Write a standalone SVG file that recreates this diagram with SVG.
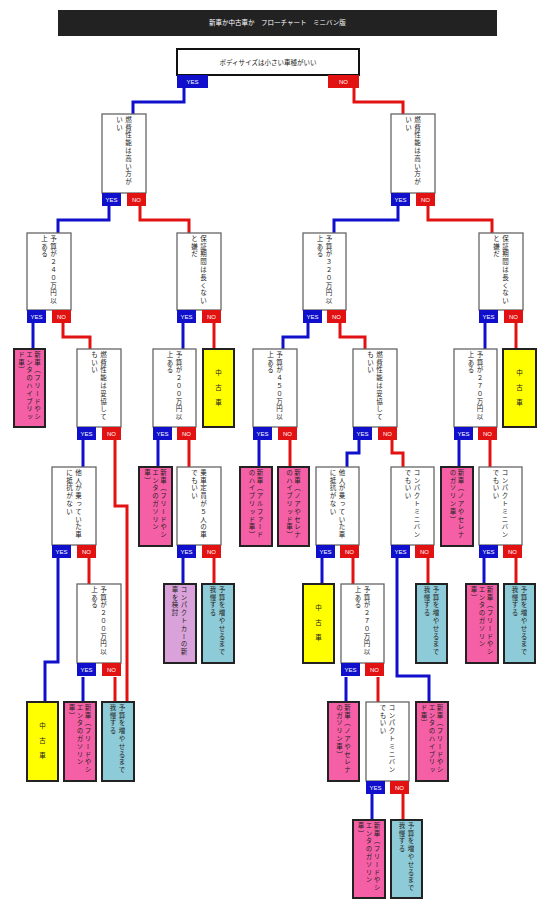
<svg xmlns="http://www.w3.org/2000/svg" width="550" height="917" viewBox="0 0 550 917">
<style>
.bg{fill:#fff}
.title{fill:#222}
.tt{font-family:'Noto Sans CJK JP',sans-serif;font-size:6.5px;fill:#fff;text-anchor:middle}
.root{fill:#fff;stroke:#111;stroke-width:2}
.dec{fill:#fff;stroke:#666;stroke-width:1.3}
.pk{fill:#f55fa6;stroke:#222;stroke-width:2}
.yl{fill:#ffff00;stroke:#222;stroke-width:2}
.bl{fill:#8ecbd8;stroke:#222;stroke-width:2}
.pu{fill:#daa2da;stroke:#222;stroke-width:2}
.ht{font-family:'Noto Sans CJK JP',sans-serif;font-size:6.5px;fill:#222;text-anchor:middle}
.vt{font-family:'Noto Sans CJK JP',sans-serif;font-size:6.5px;fill:#222;writing-mode:vertical-rl;letter-spacing:1.3px}
.vy{font-family:'Noto Sans CJK JP',sans-serif;font-size:6.5px;fill:#222;writing-mode:vertical-rl;letter-spacing:8.5px}
.ys{fill:#1010cc}
.no{fill:#e31212}
.lb{font-family:'Liberation Sans',Arial,sans-serif;font-size:6px;fill:#fff;text-anchor:middle}
.cb{fill:none;stroke:#1010cc;stroke-width:3}
.cr{fill:none;stroke:#e31212;stroke-width:3}
</style>
<rect class="bg" x="0" y="0" width="550" height="917"/>
<g id="title">
<rect class="title" x="58" y="10" width="439" height="26"/>
<text class="tt" x="277.5" y="25.3">新車か中古車か　フローチャート　ミニバン版</text>
</g>
<g id="connectors">
<path class="cb" d="M184 88V102H133V114"/>
<path class="cb" d="M109 206V220H58V233"/>
<path class="cb" d="M398 206V220H334V233"/>
<path class="cb" d="M33 323V349"/>
<path class="cb" d="M183 323V349"/>
<path class="cb" d="M308 323V337H283V349"/>
<path class="cb" d="M485 323V349"/>
<path class="cb" d="M83 440V467"/>
<path class="cb" d="M158 440V467"/>
<path class="cb" d="M259 440V467"/>
<path class="cb" d="M359 440V453H347V467"/>
<path class="cb" d="M459 440V467"/>
<path class="cb" d="M58 558V662H45V702"/>
<path class="cb" d="M183 558V584"/>
<path class="cb" d="M322 558V584"/>
<path class="cb" d="M397 558V676H429V702"/>
<path class="cb" d="M484 558V584"/>
<path class="cb" d="M83 677V702"/>
<path class="cb" d="M346 677V702"/>
<path class="cb" d="M372 794V820"/>
<path class="cr" d="M354 88V102H403V114"/>
<path class="cr" d="M140 206V220H189V233"/>
<path class="cr" d="M428 206V220H492V233"/>
<path class="cr" d="M63 323V337H90V349"/>
<path class="cr" d="M214 323V349"/>
<path class="cr" d="M340 323V337H365V349"/>
<path class="cr" d="M516 323V349"/>
<path class="cr" d="M115 440V506H127V702"/>
<path class="cr" d="M189 440V467"/>
<path class="cr" d="M290 440V467"/>
<path class="cr" d="M392 440V453H403V467"/>
<path class="cr" d="M490 440V467"/>
<path class="cr" d="M89 558V584"/>
<path class="cr" d="M214 558V584"/>
<path class="cr" d="M353 558V584"/>
<path class="cr" d="M428 558V584"/>
<path class="cr" d="M516 558V584"/>
<path class="cr" d="M115 677V702"/>
<path class="cr" d="M378 677V702"/>
<path class="cr" d="M403 794V820"/>
</g>
<g id="n-root">
<rect class="root" x="177" y="49" width="182" height="26"/>
<text class="ht" x="268" y="64.5">ボディサイズは小さい車種がいい</text>
<rect class="ys" x="177" y="75" width="31" height="13"/><text class="lb" x="192.5" y="84">YES</text>
<rect class="no" x="328" y="75" width="31" height="13"/><text class="lb" x="343.5" y="84">NO</text>
</g>
<g id="n-a">
<rect class="dec" x="102" y="114" width="44" height="79"/>
<text class="vt" x="128.5" y="116">燃費性能は高い方が</text>
<text class="vt" x="119.5" y="116">いい</text>
<rect class="ys" x="102" y="193" width="19" height="13"/><text class="lb" x="111.5" y="202">YES</text>
<rect class="no" x="127" y="193" width="19" height="13"/><text class="lb" x="136.5" y="202">NO</text>
</g>
<g id="n-b">
<rect class="dec" x="391" y="114" width="44" height="79"/>
<text class="vt" x="417.5" y="116">燃費性能は高い方が</text>
<text class="vt" x="408.5" y="116">いい</text>
<rect class="ys" x="391" y="193" width="19" height="13"/><text class="lb" x="400.5" y="202">YES</text>
<rect class="no" x="416" y="193" width="19" height="13"/><text class="lb" x="425.5" y="202">NO</text>
</g>
<g id="n-c">
<rect class="dec" x="27" y="233" width="44" height="77"/>
<text class="vt" x="53.5" y="235">予算が２４０万円以</text>
<text class="vt" x="44.5" y="235">上ある</text>
<rect class="ys" x="27" y="310" width="19" height="13"/><text class="lb" x="36.5" y="319">YES</text>
<rect class="no" x="52" y="310" width="19" height="13"/><text class="lb" x="61.5" y="319">NO</text>
</g>
<g id="n-d">
<rect class="dec" x="177" y="233" width="44" height="77"/>
<text class="vt" x="203.5" y="235">保証期間は長くない</text>
<text class="vt" x="194.5" y="235">と嫌だ</text>
<rect class="ys" x="177" y="310" width="19" height="13"/><text class="lb" x="186.5" y="319">YES</text>
<rect class="no" x="202" y="310" width="19" height="13"/><text class="lb" x="211.5" y="319">NO</text>
</g>
<g id="n-e">
<rect class="dec" x="303" y="233" width="43" height="77"/>
<text class="vt" x="329" y="235">予算が３２０万円以</text>
<text class="vt" x="320" y="235">上ある</text>
<rect class="ys" x="303" y="310" width="19" height="13"/><text class="lb" x="312.5" y="319">YES</text>
<rect class="no" x="327" y="310" width="19" height="13"/><text class="lb" x="336.5" y="319">NO</text>
</g>
<g id="n-f">
<rect class="dec" x="479" y="233" width="44" height="77"/>
<text class="vt" x="505.5" y="235">保証期間は長くない</text>
<text class="vt" x="496.5" y="235">と嫌だ</text>
<rect class="ys" x="479" y="310" width="19" height="13"/><text class="lb" x="488.5" y="319">YES</text>
<rect class="no" x="504" y="310" width="19" height="13"/><text class="lb" x="513.5" y="319">NO</text>
</g>
<g id="n-g">
<rect class="pk" x="14" y="349" width="31" height="78"/>
<text class="vt" x="37.5" y="351">新車（フリードやシ</text>
<text class="vt" x="29.5" y="351">エンタのハイブリッ</text>
<text class="vt" x="21.5" y="351">ド車）</text>
</g>
<g id="n-h">
<rect class="dec" x="77" y="349" width="44" height="78"/>
<text class="vt" x="103.5" y="351">燃費性能は妥協して</text>
<text class="vt" x="94.5" y="351">もいい</text>
<rect class="ys" x="77" y="427" width="19" height="13"/><text class="lb" x="86.5" y="436">YES</text>
<rect class="no" x="102" y="427" width="19" height="13"/><text class="lb" x="111.5" y="436">NO</text>
</g>
<g id="n-i">
<rect class="dec" x="153" y="349" width="43" height="78"/>
<text class="vt" x="179" y="351">予算が２００万円以</text>
<text class="vt" x="170" y="351">上ある</text>
<rect class="ys" x="153" y="427" width="19" height="13"/><text class="lb" x="162.5" y="436">YES</text>
<rect class="no" x="177" y="427" width="19" height="13"/><text class="lb" x="186.5" y="436">NO</text>
</g>
<g id="n-j">
<rect class="yl" x="203" y="349" width="31" height="78"/>
<text class="vy" x="218.5" y="369.5">中古車</text>
</g>
<g id="n-k">
<rect class="dec" x="253" y="349" width="44" height="78"/>
<text class="vt" x="279.5" y="351">予算が４５０万円以</text>
<text class="vt" x="270.5" y="351">上ある</text>
<rect class="ys" x="253" y="427" width="19" height="13"/><text class="lb" x="262.5" y="436">YES</text>
<rect class="no" x="278" y="427" width="19" height="13"/><text class="lb" x="287.5" y="436">NO</text>
</g>
<g id="n-l">
<rect class="dec" x="353" y="349" width="44" height="78"/>
<text class="vt" x="379.5" y="351">燃費性能は妥協して</text>
<text class="vt" x="370.5" y="351">もいい</text>
<rect class="ys" x="353" y="427" width="19" height="13"/><text class="lb" x="362.5" y="436">YES</text>
<rect class="no" x="378" y="427" width="19" height="13"/><text class="lb" x="387.5" y="436">NO</text>
</g>
<g id="n-m">
<rect class="dec" x="454" y="349" width="43" height="78"/>
<text class="vt" x="480" y="351">予算が２７０万円以</text>
<text class="vt" x="471" y="351">上ある</text>
<rect class="ys" x="454" y="427" width="19" height="13"/><text class="lb" x="463.5" y="436">YES</text>
<rect class="no" x="478" y="427" width="19" height="13"/><text class="lb" x="487.5" y="436">NO</text>
</g>
<g id="n-n">
<rect class="yl" x="503" y="349" width="33" height="78"/>
<text class="vy" x="519.5" y="369.5">中古車</text>
</g>
<g id="n-o">
<rect class="dec" x="52" y="467" width="44" height="78"/>
<text class="vt" x="78.5" y="469">他人が乗っていた車</text>
<text class="vt" x="69.5" y="469">に抵抗がない</text>
<rect class="ys" x="52" y="545" width="19" height="13"/><text class="lb" x="61.5" y="554">YES</text>
<rect class="no" x="77" y="545" width="19" height="13"/><text class="lb" x="86.5" y="554">NO</text>
</g>
<g id="n-p">
<rect class="pk" x="139" y="467" width="33" height="79"/>
<text class="vt" x="163.5" y="469">新車（フリードやシ</text>
<text class="vt" x="155.5" y="469">エンタのガソリン</text>
<text class="vt" x="147.5" y="469">車）</text>
</g>
<g id="n-q">
<rect class="dec" x="177" y="467" width="44" height="78"/>
<text class="vt" x="203.5" y="469">乗車定員が５人の車</text>
<text class="vt" x="194.5" y="469">でもいい</text>
<rect class="ys" x="177" y="545" width="19" height="13"/><text class="lb" x="186.5" y="554">YES</text>
<rect class="no" x="202" y="545" width="19" height="13"/><text class="lb" x="211.5" y="554">NO</text>
</g>
<g id="n-r">
<rect class="pk" x="240" y="467" width="32" height="79"/>
<text class="vt" x="260" y="469">新車（アルファード</text>
<text class="vt" x="252" y="469">のハイブリッド車）</text>
</g>
<g id="n-s">
<rect class="pk" x="278" y="467" width="31" height="79"/>
<text class="vt" x="297.5" y="469">新車（ノアやセレナ</text>
<text class="vt" x="289.5" y="469">のハイブリッド車）</text>
</g>
<g id="n-t">
<rect class="dec" x="316" y="467" width="43" height="78"/>
<text class="vt" x="342" y="469">他人が乗っていた車</text>
<text class="vt" x="333" y="469">に抵抗がない</text>
<rect class="ys" x="316" y="545" width="19" height="13"/><text class="lb" x="325.5" y="554">YES</text>
<rect class="no" x="340" y="545" width="19" height="13"/><text class="lb" x="349.5" y="554">NO</text>
</g>
<g id="n-u">
<rect class="dec" x="391" y="467" width="43" height="78"/>
<text class="vt" x="417" y="469">コンパクトミニバン</text>
<text class="vt" x="408" y="469">でもいい</text>
<rect class="ys" x="391" y="545" width="19" height="13"/><text class="lb" x="400.5" y="554">YES</text>
<rect class="no" x="415" y="545" width="19" height="13"/><text class="lb" x="424.5" y="554">NO</text>
</g>
<g id="n-v">
<rect class="pk" x="441" y="467" width="32" height="79"/>
<text class="vt" x="461" y="469">新車（ノアやセレナ</text>
<text class="vt" x="453" y="469">のガソリン車）</text>
</g>
<g id="n-w">
<rect class="dec" x="479" y="467" width="43" height="78"/>
<text class="vt" x="505" y="469">コンパクトミニバン</text>
<text class="vt" x="496" y="469">でもいい</text>
<rect class="ys" x="479" y="545" width="19" height="13"/><text class="lb" x="488.5" y="554">YES</text>
<rect class="no" x="503" y="545" width="19" height="13"/><text class="lb" x="512.5" y="554">NO</text>
</g>
<g id="n-y">
<rect class="dec" x="77" y="584" width="44" height="79"/>
<text class="vt" x="103.5" y="586">予算が２００万円以</text>
<text class="vt" x="94.5" y="586">上ある</text>
<rect class="ys" x="77" y="663" width="19" height="13"/><text class="lb" x="86.5" y="672">YES</text>
<rect class="no" x="102" y="663" width="19" height="13"/><text class="lb" x="111.5" y="672">NO</text>
</g>
<g id="n-aa">
<rect class="pu" x="164" y="584" width="32" height="79"/>
<text class="vt" x="184" y="586">コンパクトカーの新</text>
<text class="vt" x="175" y="586">車を検討</text>
</g>
<g id="n-bb">
<rect class="bl" x="202" y="584" width="32" height="79"/>
<text class="vt" x="222" y="586">予算を増やせるまで</text>
<text class="vt" x="213" y="586">我慢する</text>
</g>
<g id="n-cc">
<rect class="yl" x="303" y="584" width="31" height="79"/>
<text class="vy" x="318.5" y="604.5">中古車</text>
</g>
<g id="n-dd">
<rect class="dec" x="341" y="584" width="43" height="79"/>
<text class="vt" x="367" y="586">予算が２７０万円以</text>
<text class="vt" x="358" y="586">上ある</text>
<rect class="ys" x="341" y="663" width="19" height="13"/><text class="lb" x="350.5" y="672">YES</text>
<rect class="no" x="365" y="663" width="19" height="13"/><text class="lb" x="374.5" y="672">NO</text>
</g>
<g id="n-ee">
<rect class="bl" x="416" y="584" width="31" height="79"/>
<text class="vt" x="436" y="586">予算を増やせるまで</text>
<text class="vt" x="427" y="586">我慢する</text>
</g>
<g id="n-ff">
<rect class="pk" x="466" y="584" width="32" height="79"/>
<text class="vt" x="490" y="586">新車（フリードやシ</text>
<text class="vt" x="482" y="586">エンタのガソリン</text>
<text class="vt" x="474" y="586">車）</text>
</g>
<g id="n-gg">
<rect class="bl" x="504" y="584" width="31" height="79"/>
<text class="vt" x="524" y="586">予算を増やせるまで</text>
<text class="vt" x="515" y="586">我慢する</text>
</g>
<g id="n-x">
<rect class="yl" x="27" y="702" width="31" height="79"/>
<text class="vy" x="42.5" y="722.5">中古車</text>
</g>
<g id="n-ii">
<rect class="pk" x="64" y="702" width="32" height="79"/>
<text class="vt" x="88" y="704">新車（フリードやシ</text>
<text class="vt" x="80" y="704">エンタのガソリン</text>
<text class="vt" x="72" y="704">車）</text>
</g>
<g id="n-z">
<rect class="bl" x="102" y="702" width="32" height="79"/>
<text class="vt" x="122" y="704">予算を増やせるまで</text>
<text class="vt" x="113" y="704">我慢する</text>
</g>
<g id="n-jj">
<rect class="pk" x="328" y="702" width="31" height="79"/>
<text class="vt" x="347.5" y="704">新車（ノアやセレナ</text>
<text class="vt" x="339.5" y="704">のガソリン車）</text>
</g>
<g id="n-kk">
<rect class="dec" x="366" y="702" width="43" height="79"/>
<text class="vt" x="392" y="704">コンパクトミニバン</text>
<text class="vt" x="383" y="704">でもいい</text>
<rect class="ys" x="366" y="781" width="19" height="13"/><text class="lb" x="375.5" y="790">YES</text>
<rect class="no" x="390" y="781" width="19" height="13"/><text class="lb" x="399.5" y="790">NO</text>
</g>
<g id="n-hh">
<rect class="pk" x="416" y="702" width="32" height="79"/>
<text class="vt" x="440" y="704">新車（フリードやシ</text>
<text class="vt" x="432" y="704">エンタのハイブリッ</text>
<text class="vt" x="424" y="704">ド車）</text>
</g>
<g id="n-ll">
<rect class="pk" x="353" y="820" width="32" height="78"/>
<text class="vt" x="377" y="822">新車（フリードやシ</text>
<text class="vt" x="369" y="822">エンタのガソリン</text>
<text class="vt" x="361" y="822">車）</text>
</g>
<g id="n-mm">
<rect class="bl" x="391" y="820" width="31" height="78"/>
<text class="vt" x="411" y="822">予算を増やせるまで</text>
<text class="vt" x="402" y="822">我慢する</text>
</g>
</svg>
